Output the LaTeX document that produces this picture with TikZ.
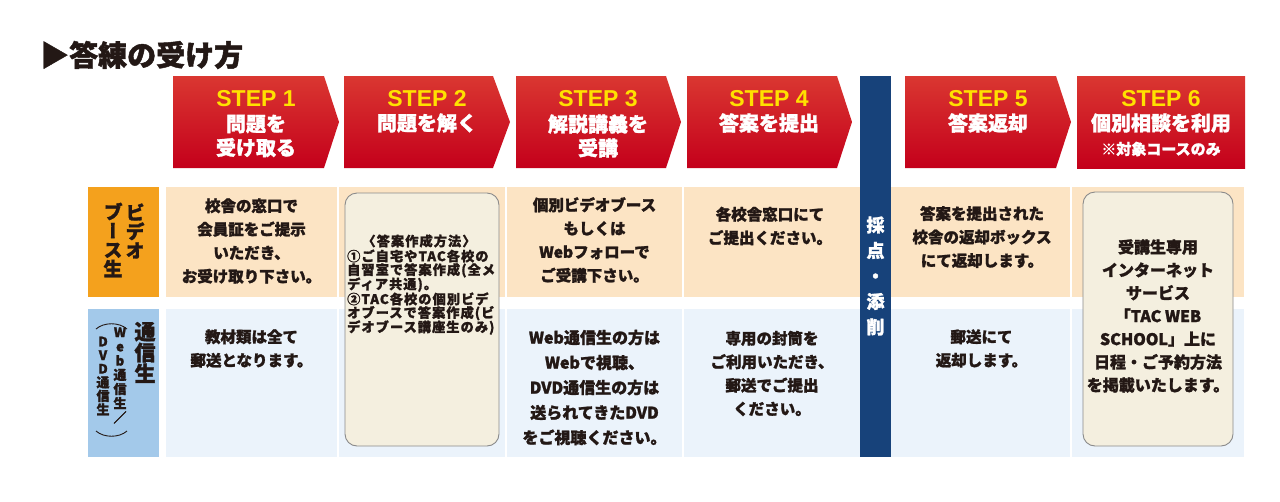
\documentclass[tikz,border=0pt]{standalone}
\usepackage{fontspec}
\setmainfont{Noto Sans CJK JP}[BoldFeatures={FakeBold=1.5}]
\newfontfamily\jpv{Noto Sans CJK JP}[RawFeature=+vert,BoldFeatures={FakeBold=1.5}]
\newfontfamily\stepfnt{Liberation Sans}
\newcommand\mytight{\setlength{\lineskiplimit}{-20pt}\setlength{\lineskip}{0pt}}
\definecolor{ink}{HTML}{231815}
\definecolor{stepyellow}{HTML}{FFE100}
\definecolor{redtop}{HTML}{DA3731}
\definecolor{redbot}{HTML}{C4001B}
\definecolor{navy}{HTML}{17427A}
\definecolor{orlab}{HTML}{F4A11D}
\definecolor{orrow}{HTML}{FCE4C4}
\definecolor{bllab}{HTML}{A3C9EA}
\definecolor{blrow}{HTML}{EBF3FB}
\definecolor{cream}{HTML}{F4EFDF}
\definecolor{boxline}{HTML}{8A8A8A}
\begin{document}
\begin{tikzpicture}[x=1pt,y=-1pt,
  stepbox/.style={top color=redtop,bottom color=redbot,draw=none},
  steplabel/.style={font=\stepfnt\bfseries\fontsize{23}{24}\selectfont,text=stepyellow,inner sep=0},
  stephead/.style={font=\bfseries\fontsize{20}{24}\selectfont,text=white,align=center,inner sep=0},
  stepnote/.style={font=\bfseries\fontsize{15}{16}\selectfont,text=white,inner sep=0},
  cell/.style={font=\bfseries\fontsize{15.5}{23.5}\selectfont,text=ink,align=center,inner sep=0},
  smallline/.style={font=\bfseries\fontsize{13.2}{14.3}\selectfont\addfontfeature{LetterSpace=8},text=ink,inner sep=0,anchor=west},
  notebox/.style={fill=cream,draw=boxline,line width=0.9pt,rounded corners=12pt},
  vlab/.style={font=\jpv\bfseries\fontsize{19}{19}\selectfont,text=ink,align=center,inner sep=0},
  vsmall/.style={font=\jpv\bfseries\fontsize{13}{14.2}\selectfont\mytight,text=ink,align=center,inner sep=0},
  vnavy/.style={font=\jpv\bfseries\fontsize{18}{25.5}\selectfont,text=white,align=center,inner sep=0},
  parenarc/.style={draw=ink,line width=0.9pt}
]
\useasboundingbox (0,0) rectangle (1280,501);
\fill[white] (0,0) rectangle (1280,501);

% title
\node[anchor=west,font=\bfseries\fontsize{29}{30}\selectfont,text=ink,inner sep=0] (title) at (40,55) {▶答練の受け方};

% step headers
\path[stepbox] (173,76) -- (324,76) -- (339,122) -- (324,168) -- (173,168) -- cycle;
\path[stepbox] (344,76) -- (493,76) -- (510,122) -- (493,168) -- (344,168) -- cycle;
\path[stepbox] (516,76) -- (666,76) -- (681,122) -- (666,168) -- (516,168) -- cycle;
\path[stepbox] (687,76) -- (837,76) -- (852,122) -- (837,168) -- (687,168) -- cycle;
\path[stepbox] (905,76) -- (1056,76) -- (1071,122) -- (1056,168) -- (905,168) -- cycle;
\path[stepbox] (1077,76) rectangle (1245,168);

\node[steplabel] (s1) at (256,99) {STEP 1};
\node[stephead] (s1t) at (256,136) {問題を\\受け取る};
\node[steplabel] (s2) at (427,99) {STEP 2};
\node[stephead] (s2t) at (427,123) {問題を解く};
\node[steplabel] (s3) at (598,99) {STEP 3};
\node[stephead] (s3t) at (598,136) {解説講義を\\受講};
\node[steplabel] (s4) at (769,99) {STEP 4};
\node[stephead] (s4t) at (769,123) {答案を提出};
\node[steplabel] (s5) at (988,99) {STEP 5};
\node[stephead] (s5t) at (988,123) {答案返却};
\node[steplabel] (s6) at (1161,99) {STEP 6};
\node[stephead] (s6t) at (1161,123) {個別相談を利用};
\node[stepnote] (s6n) at (1161,149) {※対象コースのみ};

% navy bar
\fill[navy] (860,76) rectangle (891,457);

% row labels
\fill[orlab] (88,187) rectangle (159,297);
\fill[bllab] (88,309) rectangle (159,457);

% row cells
\foreach \a/\b in {166/337,339/505,507/682,684/860,891/1070,1072/1244}{
  \fill[orrow] (\a,187) rectangle (\b,297);
  \fill[blrow] (\a,309) rectangle (\b,457);
}

% rounded note boxes
\path[notebox] (345,193) rectangle (499,446);
\path[notebox] (1083,192) rectangle (1233,446);

% label texts
\node[vlab] (lv1) at (135,231) {ビ\\デ\\オ};
\node[vlab] (lv2) at (113,240) {ブ\\ー\\ス\\生};
\node[vlab,font=\jpv\bfseries\fontsize{21}{21}\selectfont] (lw1) at (145,352.5) {通\\信\\生};
\node[vsmall] (lw2) at (120,375.5) {W\\e\\b\\通\\信\\生\\／};
\node[vsmall,font=\jpv\bfseries\fontsize{13}{13.6}\selectfont\mytight] (lw3) at (103,376) {D\\V\\D\\通\\信\\生};
\path[parenarc] (96,329) .. controls (104,322) and (119,322) .. (127,329);
\path[parenarc] (96,431) .. controls (104,438) and (119,438) .. (127,431);

% navy text
\node[vnavy] (nv) at (875.5,276) {採\\点\\・\\添\\削};

% cell texts
\node[cell] (c1v) at (251.5,241) {校舎の窓口で\\会員証をご提示\\いただき、\\お受け取り下さい。};
\node[cell] (c1w) at (251.5,348.5) {教材類は全て\\郵送となります。};
\node[smallline,anchor=center] (c2h) at (419,241) {〈答案作成方法〉};
\node[smallline] (c2a) at (347,256) {①ご自宅やTAC各校の};
\node[smallline] (c2b) at (347,270.3) {自習室で答案作成(全メ};
\node[smallline] (c2c) at (347,284.6) {ディア共通)。};
\node[smallline] (c2d) at (347,298.9) {②TAC各校の個別ビデ};
\node[smallline] (c2e) at (347,313.2) {オブースで答案作成(ビ};
\node[smallline] (c2f) at (347,327.5) {デオブース講座生のみ)};
\node[cell] (c3v) at (594.5,240) {個別ビデオブース\\もしくは\\Webフォローで\\ご受講下さい。};
\node[cell,font=\bfseries\fontsize{16}{25}\selectfont] (c3w) at (594.5,387.5) {Web通信生の方は\\Webで視聴、\\DVD通信生の方は\\送られてきたDVD\\をご視聴ください。};
\node[cell] (c4v) at (770,226) {各校舎窓口にて\\ご提出ください。};
\node[cell] (c4w) at (772,373.5) {専用の封筒を\\ご利用いただき、\\郵送でご提出\\ください。};
\node[cell] (c5v) at (982,237) {答案を提出された\\校舎の返却ボックス\\にて返却します。};
\node[cell] (c5w) at (981.5,348.5) {郵送にて\\返却します。};
\node[cell,font=\bfseries\fontsize{16}{23}\selectfont] (c6) at (1158,316) {受講生専用\\インターネット\\サービス\\「TAC WEB\\SCHOOL」上に\\日程・ご予約方法\\を掲載いたします。};
\end{tikzpicture}
\end{document}
